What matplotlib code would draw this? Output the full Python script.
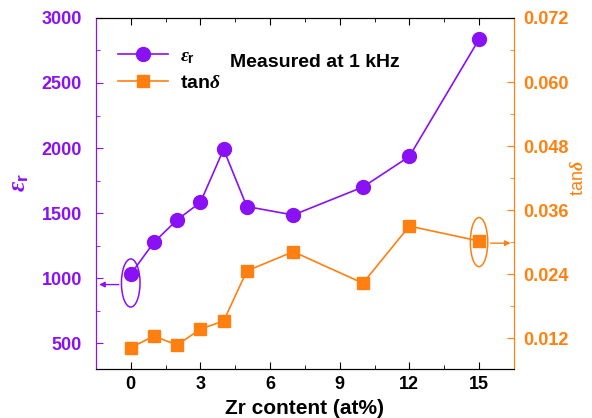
import matplotlib.pyplot as plt
from matplotlib.patches import Ellipse
from matplotlib.ticker import MultipleLocator

plt.rcParams['font.family'] = ['Liberation Sans', 'DejaVu Sans']
plt.rcParams['font.weight'] = 'bold'
plt.rcParams['mathtext.fontset'] = 'custom'
plt.rcParams['mathtext.rm'] = 'Liberation Sans:bold'
plt.rcParams['mathtext.it'] = 'Liberation Serif:italic'
plt.rcParams['mathtext.bf'] = 'Liberation Sans:bold'

purple = '#8A10F5'
orange = '#FF8010'

zr = [0, 1, 2, 3, 4, 5, 7, 10, 12, 15]
eps_r = [1030, 1275, 1448, 1582, 1990, 1550, 1485, 1700, 1935, 2836]
tan_d = [0.0102, 0.0124, 0.0107, 0.0137, 0.0152, 0.0246, 0.0282, 0.0223, 0.0330, 0.0302]

x_ticks = [0, 3, 6, 9, 12, 15]
eps_ticks = [500, 1000, 1500, 2000, 2500, 3000]
tan_ticks = [0.012, 0.024, 0.036, 0.048, 0.060, 0.072]

fig = plt.figure(figsize=(5.92, 4.18), dpi=100)
ax = fig.add_axes([0.162, 0.117, 0.706, 0.840])
ax2 = ax.twinx()

l1, = ax.plot(zr, eps_r, '-o', color=purple, lw=1.2, ms=10, label=r'$\varepsilon_\mathbf{r}$')
l2, = ax2.plot(zr, tan_d, '-s', color=orange, lw=1.2, ms=8.5, label=r'tan$\delta$')

ax.set_xlim(-1.5, 16.5)
ax.set_ylim(300, 3000)
ax2.set_ylim(0.0062, 0.072)
ax.set_xticks(x_ticks)
ax.set_yticks(eps_ticks)
ax2.set_yticks(tan_ticks)
ax2.set_yticklabels([f'{t:.3f}' for t in tan_ticks])
ax.xaxis.set_minor_locator(MultipleLocator(1.5))
ax.yaxis.set_minor_locator(MultipleLocator(250))
ax2.yaxis.set_minor_locator(MultipleLocator(0.006))

ax.tick_params(axis='x', which='both', direction='in', top=True, labelsize=13, colors='black', pad=5)
ax.tick_params(axis='x', which='major', length=5)
ax.tick_params(axis='x', which='minor', length=3)
ax.tick_params(axis='y', which='both', direction='in', colors=purple, labelsize=13, pad=10)
ax.tick_params(axis='y', which='major', length=5)
ax.tick_params(axis='y', which='minor', length=3)
ax2.tick_params(axis='y', which='both', direction='in', colors=orange, labelsize=13, pad=7)
ax2.tick_params(axis='y', which='major', length=5)
ax2.tick_params(axis='y', which='minor', length=3)

for a in (ax, ax2):
    a.spines['left'].set_color(purple)
    a.spines['right'].set_color(orange)
    a.spines['top'].set_color('black')
    a.spines['bottom'].set_color('black')

ax.set_xlabel('Zr content (at%)', fontsize=15, fontweight='bold')
ax.xaxis.set_label_coords(0.5, -0.085)
ax.set_ylabel(r'$\varepsilon_\mathbf{r}$', color=purple, fontsize=18)
ax.yaxis.set_label_coords(-0.155, 0.53)
ax2.set_ylabel(r'tan$\delta$', color=orange, fontsize=13, rotation=90)
ax2.yaxis.set_label_coords(1.135, 0.545)

# ellipses with arrows pointing to the matching axis
ax.add_patch(Ellipse((0, 962), 0.8, 370, fill=False, ec=purple, lw=1.1))
ax.annotate('', xy=(-1.48, 950), xytext=(-0.4, 950),
            arrowprops=dict(arrowstyle='-|>', color=purple, lw=1, mutation_scale=8))
ax2.add_patch(Ellipse((15, 0.0300), 0.75, 0.0092, fill=False, ec=orange, lw=1.1))
ax2.annotate('', xy=(16.48, 0.0298), xytext=(15.38, 0.0298),
             arrowprops=dict(arrowstyle='-|>', color=orange, lw=1, mutation_scale=8))

ax.text(0.32, 0.873, 'Measured at 1 kHz', transform=ax.transAxes,
        fontsize=14, fontweight='bold', va='center', ha='left')

ax.legend([l1, l2], [l1.get_label(), l2.get_label()], loc='upper left',
          frameon=False, fontsize=14, handlelength=2.6, labelspacing=0.45,
          handletextpad=0.6, bbox_to_anchor=(0.02, 0.955), borderaxespad=0.3)

fig.savefig('out.png', dpi=100)
